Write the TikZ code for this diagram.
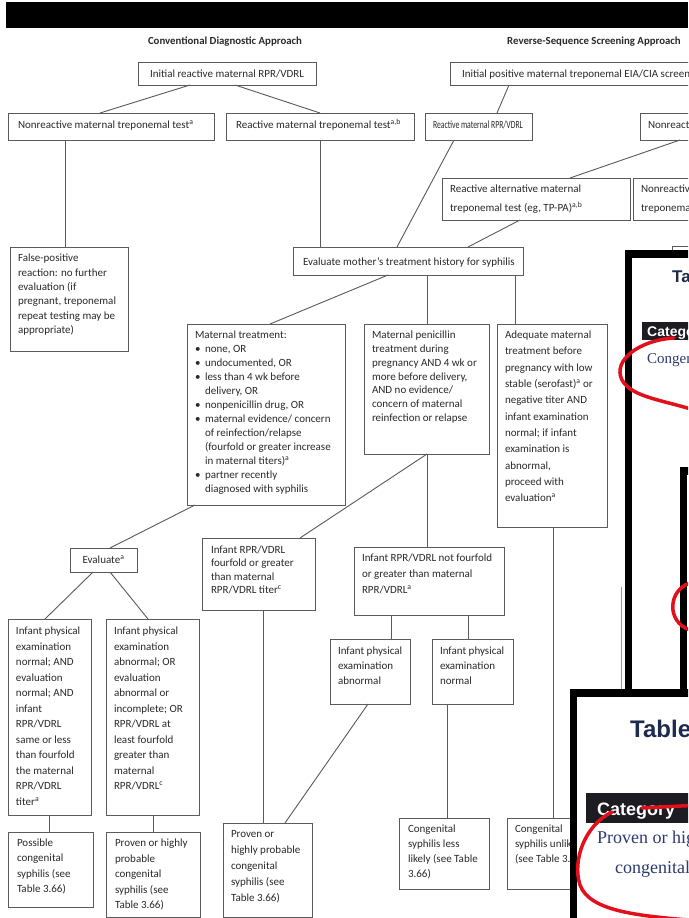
\documentclass[tikz,border=0pt]{standalone}
\usepackage{fontspec}
\setmainfont{Carlito}
\newfontfamily\ovsans{Liberation Sans}
\newfontfamily\ovserif{Liberation Serif}
\definecolor{ln}{HTML}{5A5A5A}
\definecolor{tx}{HTML}{2A2A2A}
\definecolor{navy}{HTML}{1E2B4F}
\definecolor{navyser}{HTML}{2C3A70}
\definecolor{hdrdark}{HTML}{1C1C22}
\definecolor{redmark}{HTML}{E3101C}
\tikzset{
  bx/.style={draw=ln, line width=0.9pt, rectangle, inner sep=0pt, outer sep=0pt, anchor=north west},
  tt/.style={anchor=north west, inner sep=0pt, outer sep=0pt, align=left, text=tx},
  conn/.style={draw=ln, line width=0.9pt},
  band/.style={draw=black, line width=7.5pt},
  redline/.style={draw=redmark, line width=3.5pt, line cap=round},
}
\newcommand{\Bx}[5]{\node[bx, minimum width=#4pt, minimum height=#5pt] (#1) at (#2,#3) {};}
\newcommand{\Tx}[5]{\node[tt, font=\fontsize{11}{#4}\selectfont] (#1) at (#2,#3) {#5};}
\newcommand{\Ty}[4]{\node[tt, anchor=base west, font=\fontsize{11}{13}\selectfont] (#1) at (#2,#3) {#4};}
\newcommand{\Cn}[4]{\draw[conn] ([xshift=#2pt]#1.south west) -- ([xshift=#4pt]#3.north west);}
\newcommand{\bul}{\makebox[10pt][l]{\textbullet}}
\newcommand{\ind}{\hspace*{10pt}}
\begin{document}
\begin{tikzpicture}[x=1pt,y=-1pt]
\useasboundingbox (0,0) rectangle (688,918);
\clip (0,0) rectangle (688,918);
\fill[white] (0,0) rectangle (688,918);
% title bar
\fill[black] (6,2) rectangle (688,28);
\node[inner sep=0pt, text=tx, font=\bfseries\fontsize{10.8}{13}\selectfont] (h1) at (225,42) {Conventional Diagnostic Approach};
\node[inner sep=0pt, anchor=west, text=tx, font=\bfseries\fontsize{10.8}{13}\selectfont] (h2) at (507,42) {Reverse-Sequence Screening Approach};
% row 1
\node[bx, minimum width=178pt, minimum height=23pt, font=\fontsize{11}{13}\selectfont, text=tx] (A) at (138,62) {Initial reactive maternal RPR/VDRL};
\Bx{B}{450}{62}{260}{23}
\Ty{Bt}{462}{77}{Initial positive maternal treponemal EIA/CIA screen}
% row 2
\Bx{C}{8}{113}{206}{27}
\Ty{Ct}{18}{128}{Nonreactive maternal treponemal test\textsuperscript{a}}
\Bx{D}{226}{113}{188}{27}
\Ty{Dt}{236}{128}{Reactive maternal treponemal test\textsuperscript{a,b}}
\Bx{E}{425}{113}{107}{27}
\Ty{Et}{433}{128}{\scalebox{0.7}[1]{Reactive maternal RPR/VDRL}}
\Bx{F}{640}{113}{80}{27}
\Ty{Ft}{648}{128}{Nonreactive maternal treponemal test}
% alternative tests
\Bx{ALT}{442}{178}{188}{42}
\Tx{ALTt}{450}{185}{19}{Reactive alternative maternal\\treponemal test (eg, TP-PA)\textsuperscript{a,b}}
\Bx{NALT}{633}{178}{100}{42}
\Tx{NALTt}{641}{185}{19}{Nonreactive alternative maternal\\treponemal test\textsuperscript{a}}
% false positive
\Bx{FP}{10}{247}{118}{104}
\Tx{FPt}{18}{254}{14.4}{False-positive\\reaction: no further\\evaluation (if\\pregnant, treponemal\\repeat testing may be\\appropriate)}
% evaluate mother
\Bx{EV}{293}{247}{230}{28}
\Ty{EVt}{303}{265}{Evaluate mother's treatment history for syphilis}
% three branches
\Bx{MT}{187}{324}{158}{181}
\Tx{MTt}{195}{331}{14}{Maternal treatment:\\\bul none, OR\\\bul undocumented, OR\\\bul less than 4 wk before\\\ind delivery, OR\\\bul nonpenicillin drug, OR\\\bul maternal evidence/ concern\\\ind of reinfection/relapse\\\ind (fourfold or greater increase\\\ind in maternal titers)\textsuperscript{a}\\\bul partner recently\\\ind diagnosed with syphilis}
\Bx{PN}{364}{324}{125}{130}
\Tx{PNt}{372}{331}{13.8}{Maternal penicillin\\treatment during\\pregnancy AND 4 wk or\\more before delivery,\\AND no evidence/\\concern of maternal\\reinfection or relapse}
\Bx{AD}{497}{324}{110}{203}
\Tx{ADt}{505}{331}{16.3}{Adequate maternal\\treatment before\\pregnancy with low\\stable (serofast)\textsuperscript{a} or\\negative titer AND\\infant examination\\normal; if infant\\examination is\\abnormal,\\proceed with\\evaluation\textsuperscript{a}}
% next level
\node[bx, minimum width=67pt, minimum height=24pt, font=\fontsize{11}{13}\selectfont, text=tx] (EVA) at (70,548) {Evaluate\textsuperscript{a}};
\Bx{FF}{202}{538}{113}{72}
\Tx{FFt}{211}{546}{13.3}{Infant RPR/VDRL\\fourfold or greater\\than maternal\\RPR/VDRL titer\textsuperscript{c}}
\Bx{NF}{354}{547}{150}{68}
\Tx{NFt}{362}{554}{16}{Infant RPR/VDRL not fourfold\\or greater than maternal\\RPR/VDRL\textsuperscript{a}}
\Bx{L1}{8}{619}{83}{196}
\Tx{L1t}{16}{627}{15.5}{Infant physical\\examination\\normal; AND\\evaluation\\normal; AND\\infant\\RPR/VDRL\\same or less\\than fourfold\\the maternal\\RPR/VDRL\\titer\textsuperscript{a}}
\Bx{L2}{106}{619}{93}{196}
\Tx{L2t}{114}{627}{15.5}{Infant physical\\examination\\abnormal; OR\\evaluation\\abnormal or\\incomplete; OR\\RPR/VDRL at\\least fourfold\\greater than\\maternal\\RPR/VDRL\textsuperscript{c}}
\Bx{MA}{330}{639}{80}{65}
\Tx{MAt}{338}{647}{15}{Infant physical\\examination\\abnormal}
\Bx{MN}{432}{639}{81}{65}
\Tx{MNt}{440}{647}{15}{Infant physical\\examination\\normal}
% outcomes
\Bx{P1}{8}{832}{85}{75}
\Tx{P1t}{17}{839}{15.3}{Possible\\congenital\\syphilis (see\\Table 3.66)}
\Bx{P2}{106}{832}{94}{85}
\Tx{P2t}{115}{839}{15.5}{Proven or highly\\probable\\congenital\\syphilis (see\\Table 3.66)}
\Bx{P3}{223}{823}{89}{94}
\Tx{P3t}{231}{830}{16}{Proven or\\highly probable\\congenital\\syphilis (see\\Table 3.66)}
\Bx{LL}{399}{818}{90}{71}
\Tx{LLt}{408}{825}{15}{Congenital\\syphilis less\\likely (see Table\\3.66)}
\Bx{UN}{507}{818}{90}{71}
\Tx{UNt}{515}{825}{15}{Congenital\\syphilis unlikely\\(see Table 3.66)}
% connectors
\Cn{A}{52}{C}{92}
\Cn{A}{97}{D}{94}
\Cn{B}{59}{E}{72}
\Cn{C}{57}{FP}{55}
\Cn{D}{94}{EV}{27}
\Cn{E}{29}{EV}{104}
\Cn{F}{40}{ALT}{128}
\Cn{ALT}{78}{EV}{175}
\Cn{EV}{95}{MT}{83}
\Cn{EV}{134}{PN}{63}
\Cn{EV}{222}{AD}{18}
\Cn{MT}{8}{EVA}{40}
\Cn{PN}{63}{FF}{98}
\Cn{PN}{63}{NF}{73}
\Cn{EVA}{23}{L1}{37}
\Cn{EVA}{40}{L2}{42}
\Cn{L1}{41}{P1}{41}
\Cn{L2}{47}{P2}{47}
\Cn{FF}{61}{P3}{40}
\Cn{MA}{38}{P3}{62}
\Cn{NF}{37}{MA}{61}
\Cn{NF}{114}{MN}{36}
\Cn{MN}{15}{LL}{48}
\Cn{AD}{56}{UN}{46}
% ---- overlaid screenshots ----
\draw[ln, line width=0.6pt] (672,246) rectangle (720,270);
\draw[ln!60, line width=0.6pt] (621,587) -- (621,692);
% overlay 1
\fill[white] (628.5,254) rectangle (700,700);
\draw[band] (628.5,700) -- (628.5,254) -- (700,254);
\node[anchor=base west, inner sep=0pt, text=navy, font=\ovsans\bfseries\fontsize{17}{20}\selectfont] (o1t) at (672,282) {Table 3.66};
\fill[hdrdark] (642,322) rectangle (700,340);
\node[anchor=base west, inner sep=0pt, text=white, font=\ovsans\bfseries\fontsize{14}{16}\selectfont] (o1h) at (647,336) {Category};
\node[anchor=base west, inner sep=0pt, text=navyser, font=\ovserif\fontsize{15}{17}\selectfont] (o1c) at (647,363) {Congenital syphilis};
\draw[redline] (674,338) .. controls (640,340) and (612,360) .. (622,380) .. controls (632,398) and (665,400) .. (700,412);
% overlay 2
\fill[white] (683.5,471) rectangle (700,700);
\draw[band] (683.5,700) -- (683.5,471) -- (700,471);
\draw[redline] (690,583) .. controls (668,590) and (666,622) .. (690,630);
% overlay 3
\fill[white] (573.5,693) rectangle (700,930);
\draw[band] (573.5,930) -- (573.5,693) -- (700,693);
\node[anchor=base west, inner sep=0pt, text=navy, font=\ovsans\bfseries\fontsize{24}{28}\selectfont] (o3t) at (630,737) {Table 3.66};
\fill[hdrdark] (586,793) rectangle (700,823);
\node[anchor=base west, inner sep=0pt, text=white, font=\ovsans\bfseries\fontsize{18}{20}\selectfont] (o3h) at (597,815) {Category};
\node[anchor=base west, inner sep=0pt, text=navyser, font=\ovserif\fontsize{18}{20}\selectfont] (o3a) at (597,843) {Proven or highly probable};
\node[anchor=base west, inner sep=0pt, text=navyser, font=\ovserif\fontsize{18}{20}\selectfont] (o3b) at (615,873) {congenital syphilis};
\draw[redline] (642,808) -- (700,805);
\draw[redline] (612,812) .. controls (585,825) and (572,860) .. (580,885) .. controls (590,912) and (640,916) .. (700,921);
\end{tikzpicture}
\end{document}
